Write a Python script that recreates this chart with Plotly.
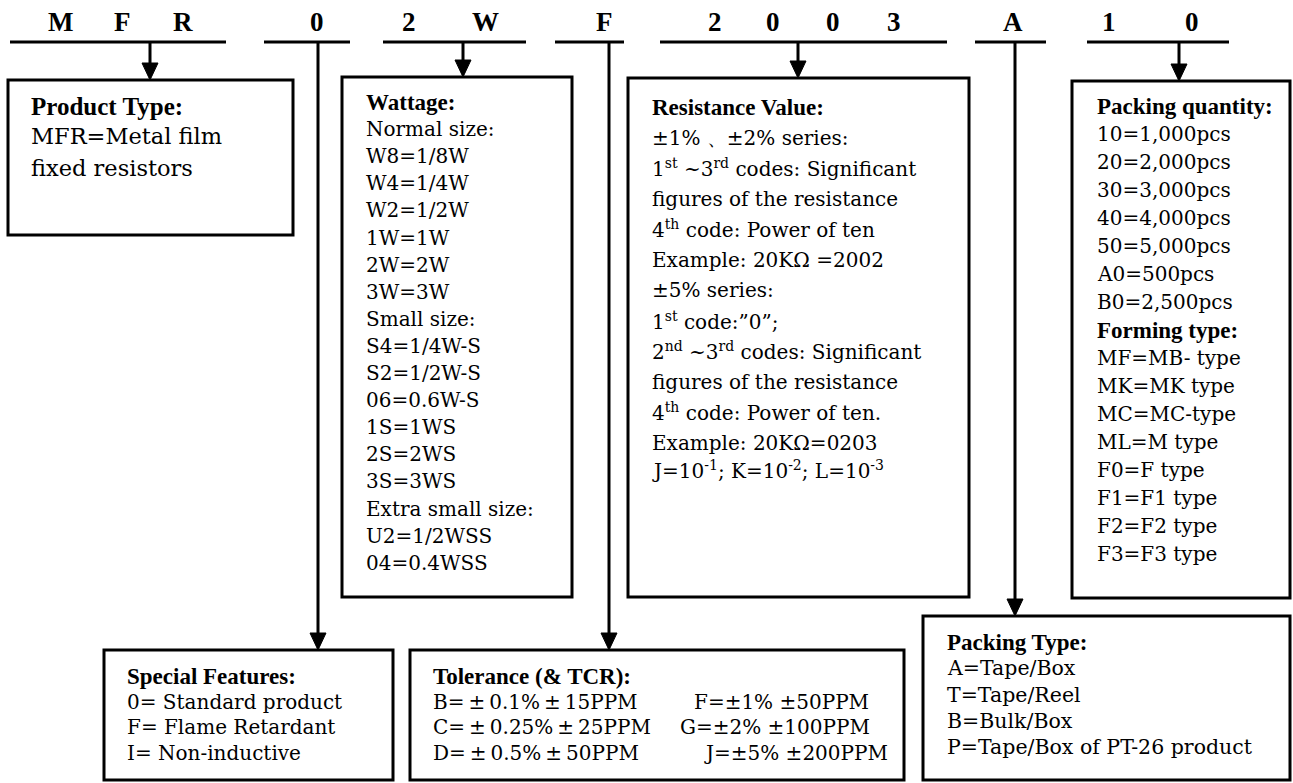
import plotly.graph_objects as go

# ---------------- data (texts) ----------------
code_groups = [["M", "F", "R"], ["0"], ["2", "W"], ["F"], ["2", "0", "0", "3"], ["A"], ["1", "0"]]

product_title = "Product Type:"
product_lines = ["MFR=Metal film", "fixed resistors"]

wattage_title = "Wattage:"
wattage_lines = ["Normal size:", "W8=1/8W", "W4=1/4W", "W2=1/2W", "1W=1W", "2W=2W", "3W=3W",
                 "Small size:", "S4=1/4W-S", "S2=1/2W-S", "06=0.6W-S", "1S=1WS", "2S=2WS", "3S=3WS",
                 "Extra small size:", "U2=1/2WSS", "04=0.4WSS"]

resistance_title = "Resistance Value:"
resistance_lines = ["±1% 、±2% series:",
                    "1<sup>st</sup> ~3<sup>rd</sup> codes: Significant",
                    "figures of the resistance",
                    "4<sup>th</sup> code: Power of ten",
                    "Example: 20KΩ =2002",
                    "±5% series:",
                    "1<sup>st</sup> code:”0”;",
                    "2<sup>nd</sup> ~3<sup>rd</sup> codes: Significant",
                    "figures of the resistance",
                    "4<sup>th</sup> code: Power of ten.",
                    "Example: 20KΩ=0203",
                    "J=10<sup>-1</sup>; K=10<sup>-2</sup>; L=10<sup>-3</sup>"]

quantity_title = "Packing quantity:"
quantity_lines = ["10=1,000pcs", "20=2,000pcs", "30=3,000pcs", "40=4,000pcs", "50=5,000pcs",
                  "A0=500pcs", "B0=2,500pcs"]
forming_title = "Forming type:"
forming_lines = ["MF=MB- type", "MK=MK type", "MC=MC-type", "ML=M type", "F0=F type",
                 "F1=F1 type", "F2=F2 type", "F3=F3 type"]

special_title = "Special Features:"
special_lines = ["0= Standard product", "F= Flame Retardant", "I= Non-inductive"]

tolerance_title = "Tolerance (& TCR):"
tolerance_left = ["B=\u2009±\u20090.1%\u2009±\u200915PPM",
                  "C=\u2009±\u20090.25%\u2009±\u200925PPM",
                  "D=\u2009±\u20090.5%\u2009±\u200950PPM"]
tolerance_right = ["F=±1% ±50PPM", "G=±2% ±100PPM", "J=±5% ±200PPM"]

packtype_title = "Packing Type:"
packtype_lines = ["A=Tape/Box", "T=Tape/Reel", "B=Bulk/Box", "P=Tape/Box of PT-26 product"]

# ---------------- geometry / style ----------------
W, H = 1293, 783
LINE_Y = 42
seg_x = [(10, 226), (264, 350), (383, 526), (555, 624), (660, 947), (975, 1046), (1087, 1229)]
letter_x = [[60, 122, 183], [317], [409, 485], [604], [715, 773, 833, 894], [1013], [1109, 1192]]
arrow_x = [150, 318, 463, 609, 798, 1015, 1179]
arrow_end = [80, 650, 77, 650, 78, 616, 81]

boxes = {
    "product": (8, 293, 80, 235),
    "wattage": (342, 572, 77, 597),
    "resistance": (628, 969, 78, 597),
    "quantity": (1072, 1290, 81, 598),
    "special": (104, 393, 650, 780),
    "tolerance": (410, 904, 650, 780),
    "packtype": (923, 1290, 616, 780),
}

BODY = dict(family="DejaVu Serif", size=20, color="black")
BODY_L = dict(family="DejaVu Serif", size=22.5, color="black")
HEAD = dict(family="Liberation Serif", size=23, color="black")
HEAD_L = dict(family="Liberation Serif", size=25, color="black")
CODE = dict(family="Liberation Serif", size=27, color="black")
LW = 3

fig = go.Figure()
shapes = []
ann = []

def text(x, y, s, font, bold=False):
    ann.append(dict(x=x, y=y, xref="x", yref="y", text=("<b>%s</b>" % s) if bold else s,
                    showarrow=False, xanchor="left", yanchor="middle", font=font))

# top code letters and segments
for grp, xs, (x0, x1) in zip(code_groups, letter_x, seg_x):
    for ch, x in zip(grp, xs):
        ann.append(dict(x=x, y=22, xref="x", yref="y", text="<b>%s</b>" % ch, showarrow=False,
                        xanchor="center", yanchor="middle", font=CODE))
    shapes.append(dict(type="line", x0=x0, x1=x1, y0=LINE_Y, y1=LINE_Y,
                       line=dict(color="black", width=LW)))

# arrows
AH, AW = 17, 8
for x, ye in zip(arrow_x, arrow_end):
    shapes.append(dict(type="line", x0=x, x1=x, y0=LINE_Y, y1=ye - AH + 2,
                       line=dict(color="black", width=LW)))
    shapes.append(dict(type="path", path="M %f,%f L %f,%f L %f,%f Z" % (x - AW, ye - AH, x + AW, ye - AH, x, ye),
                       fillcolor="black", line=dict(color="black", width=1)))

# boxes
for (x0, x1, y0, y1) in boxes.values():
    shapes.append(dict(type="rect", x0=x0, x1=x1, y0=y0, y1=y1, line=dict(color="black", width=LW),
                       fillcolor="rgba(0,0,0,0)"))

# product
text(29, 106, product_title, HEAD_L, True)
for i, s in enumerate(product_lines):
    text(29, 136 + 32 * i, s, BODY_L)

# wattage
text(364, 102, wattage_title, HEAD, True)
for i, s in enumerate(wattage_lines):
    text(364, 102 + 27.1 * (i + 1), s, BODY)

# resistance
text(650, 107, resistance_title, HEAD, True)
for i, s in enumerate(resistance_lines):
    y = 107 + 30.5 * (i + 1)
    if i == len(resistance_lines) - 1:
        y -= 3.5
    text(650, y, s, BODY)

# packing quantity + forming type
qy = 106
text(1095, qy, quantity_title, HEAD, True)
step = 28.0
k = 1
for s in quantity_lines:
    text(1095, qy + step * k, s, BODY); k += 1
text(1095, qy + step * k, forming_title, HEAD, True); k += 1
for s in forming_lines:
    text(1095, qy + step * k, s, BODY); k += 1

# special features
text(125, 676, special_title, HEAD, True)
for i, s in enumerate(special_lines):
    text(125, 676 + 25.5 * (i + 1), s, BODY)

# tolerance
text(431, 676, tolerance_title, HEAD, True)
for i, s in enumerate(tolerance_left):
    text(431, 676 + 25.5 * (i + 1), s, BODY)
right_x = [692, 678, 702]
for i, s in enumerate(tolerance_right):
    text(right_x[i], 676 + 25.5 * (i + 1), s, BODY)

# packing type
text(945, 642, packtype_title, HEAD, True)
for i, s in enumerate(packtype_lines):
    text(945, 642 + 26.3 * (i + 1), s, dict(BODY, size=20.5))

fig.update_layout(
    width=W, height=H, autosize=False,
    margin=dict(l=0, r=0, t=0, b=0, pad=0),
    paper_bgcolor="white", plot_bgcolor="white",
    xaxis=dict(range=[0, W], visible=False, fixedrange=True),
    yaxis=dict(range=[H, 0], visible=False, fixedrange=True),
    shapes=shapes, annotations=ann, showlegend=False,
)
fig.write_html("out.html",
               config={"displayModeBar": False},
               post_script="document.body.style.margin='0px';document.body.style.padding='0px';"
                           "document.documentElement.style.overflow='hidden';")
